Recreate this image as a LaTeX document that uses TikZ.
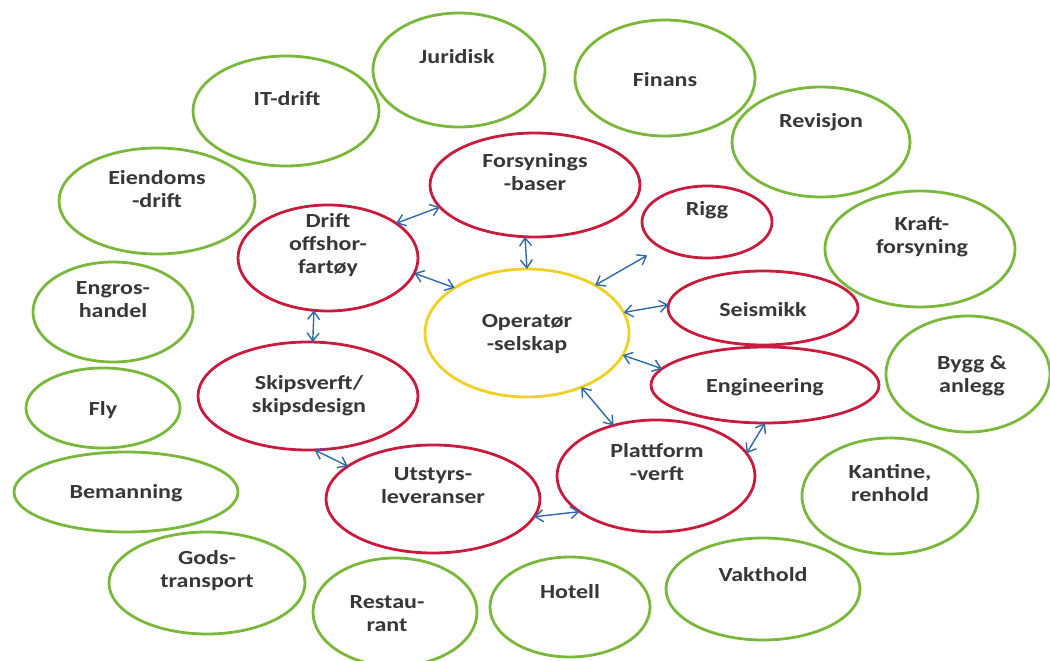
\documentclass[tikz,border=0pt]{standalone}
\usepackage{fontspec}
\usetikzlibrary{shapes.geometric,arrows.meta}
\newfontfamily\lblfont{Carlito}[FakeStretch=1.2]
\definecolor{ringgreen}{RGB}{122,184,60}
\definecolor{ringred}{RGB}{200,28,62}
\definecolor{ringyellow}{RGB}{240,208,34}
\definecolor{linkblue}{RGB}{47,105,168}
\definecolor{labelgray}{RGB}{55,55,55}
\begin{document}
\begin{tikzpicture}[x=1pt,y=-1pt,
  ring/.style args={#1/#2}{ellipse,draw,line width=2.8pt,inner sep=0pt,outer sep=0pt,
    minimum width=2*#1,minimum height=2*#2},
  outer/.style={ring=#1,draw=ringgreen},
  inner/.style={ring=#1,draw=ringred},
  hub/.style={ring=#1,draw=ringyellow},
  lbl/.style={font=\lblfont\bfseries\fontsize{20}{23}\selectfont,text=labelgray,align=center,inner sep=0pt},
  link/.style={draw=linkblue,line width=1.4pt,
    {Straight Barb[length=8pt,width=12pt,line width=1.4pt]}-{Straight Barb[length=8pt,width=12pt,line width=1.4pt]}}
]
\useasboundingbox (0,0) rectangle (1050,661);
\fill[white] (0,0) rectangle (1050,661);

% outer ring of supporting services
\node[outer=86pt/57pt]  (jur)     at (459,70)  {};
\node[outer=93pt/55pt]  (it)      at (286,111) {};
\node[outer=98pt/53pt]  (eien)    at (157,201) {};
\node[outer=80pt/50pt]  (engros)  at (113,312) {};
\node[outer=77pt/40pt]  (fly)     at (103,408) {};
\node[outer=112pt/40pt] (bem)     at (126,492) {};
\node[outer=98pt/51pt]  (gods)    at (207,583) {};
\node[outer=82pt/54pt]  (rest)    at (395,612) {};
\node[outer=80pt/50pt]  (hotell)  at (570,607) {};
\node[outer=97pt/51pt]  (vakt)    at (763,589) {};
\node[outer=88pt/58pt]  (kantine) at (890,496) {};
\node[outer=82pt/58pt]  (bygg)    at (968,374) {};
\node[outer=95pt/58pt]  (kraft)   at (920,249) {};
\node[outer=89pt/55pt]  (rev)     at (821,142) {};
\node[outer=90pt/58pt]  (fin)     at (665,78)  {};

% inner ring of offshore suppliers
\node[inner=105pt/52pt] (fors)  at (535,185) {};
\node[inner=90pt/53pt]  (drift) at (328,258) {};
\node[inner=65pt/36pt]  (rigg)  at (707,222) {};
\node[inner=95pt/37pt]  (seis)  at (763,308) {};
\node[inner=114pt/38pt] (eng)   at (765,385) {};
\node[inner=99pt/56pt]  (platt) at (656,476) {};
\node[inner=107pt/54pt] (utst)  at (433,499) {};
\node[inner=110pt/54pt] (skip)  at (308,396) {};

% operator in the middle
\node[hub=102pt/64pt] (op) at (527,333) {};

% labels
\node[lbl] (tjur)     at (457,57)  {Juridisk};
\node[lbl] (tit)      at (287,99)  {IT-drift};
\node[lbl] (tfin)     at (665,80)  {Finans};
\node[lbl] (trev)     at (821,122) {Revisjon};
\node[lbl] (teien)    at (157,189) {Eiendoms\\-drift};
\node[lbl] (tkraft)   at (922,237) {Kraft-\\forsyning};
\node[lbl] (tengros)  at (113,300) {Engros-\\handel};
\node[lbl] (tfly)     at (103,410) {Fly};
\node[lbl] (tbem)     at (126,493) {Bemanning};
\node[lbl] (tgods)    at (207,571) {Gods-\\transport};
\node[lbl] (trest)    at (387,614) {Restau-\\rant};
\node[lbl] (thotell)  at (570,592) {Hotell};
\node[lbl] (tvakt)    at (763,575) {Vakthold};
\node[lbl] (tkantine) at (890,483) {Kantine,\\renhold};
\node[lbl] (tbygg)    at (972,376) {Bygg \&\\anlegg};
\node[lbl] (tfors)    at (535,172) {Forsynings\\-baser};
\node[lbl] (tdrift)   at (328,245) {Drift\\offshor-\\fartøy};
\node[lbl] (trigg)    at (707,210) {Rigg};
\node[lbl] (tseis)    at (763,310) {Seismikk};
\node[lbl] (teng)     at (765,387) {Engineering};
\node[lbl] (tplatt)   at (657,462) {Plattform\\-verft};
\node[lbl] (tutst)    at (433,486) {Utstyrs-\\leveranser};
\node[lbl] (tskip)    at (309,396) {Skipsverft/\\skipsdesign};
\node[lbl] (top)      at (527,334) {Operatør\\-selskap};

% two-way links
\draw[link] (drift.27)  -- (fors.193);
\draw[link] (fors.259)  -- (op.90);
\draw[link] (drift.-10) -- (op.148);
\draw[link,shorten >=16pt] (op.35) -- (rigg.209);
\draw[link] (op.12)     -- (seis.178);
\draw[link] (op.-13)    -- (eng.171);
\draw[link] (op.-45)    -- (platt.130);
\draw[link] (drift.255) -- (skip.85);
\draw[link] (skip.277)  -- (utst.159);
\draw[link] (utst.-10)  -- (platt.205);
\draw[link] (platt.14)  -- (eng.270);
\end{tikzpicture}
\end{document}
